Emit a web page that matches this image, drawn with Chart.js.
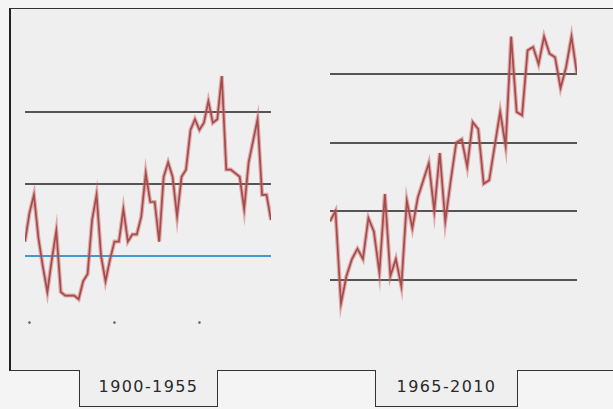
<!DOCTYPE html>
<html>
<head>
<meta charset="utf-8">
<script src="https://cdn.jsdelivr.net/npm/chart.js@4.4.1/dist/chart.umd.min.js"></script>
<style>
    html, body { margin: 0; padding: 0; }
    body { width: 613px; height: 409px; background: #f4f4f4; position: relative; overflow: hidden; }
    #frame {
        position: absolute; left: 9px; top: 8px; width: 620px; height: 361px;
        background: #efefef;
        border-left: 2px solid #222; border-top: 1px solid #333; border-bottom: 1px solid #333;
    }
    .label {
        position: absolute; top: 370px; height: 36px;
        border: 1px solid #333; border-top: none; background: #efefef;
        font-family: "DejaVu Sans", sans-serif; font-size: 16px; letter-spacing: 1.4px;
        color: #2a2a2a; text-align: center; line-height: 33px;
    }
    .plot { position: absolute; }
</style>
</head>
<body>
<div id="frame"></div>
<div class="plot" style="left:25px; top:58px; width:246px; height:288px;"><canvas id="leftChart"></canvas></div>
<div class="plot" style="left:330px; top:22.5px; width:247px; height:307.8px;"><canvas id="rightChart"></canvas></div>
<div class="label" style="left:79px; width:137px;">1900-1955</div>
<div class="label" style="left:375px; width:141px;">1965-2010</div>

<script>
const leftTitle = "1900-1955";
const rightTitle = "1965-2010";

// anomaly values, one per year
const leftValues = [
    -0.36, -0.28, -0.23, -0.35, -0.43, -0.50, -0.41, -0.33, -0.50, -0.51,
    -0.51, -0.51, -0.52, -0.47, -0.45, -0.30, -0.23, -0.40, -0.47, -0.41,
    -0.36, -0.36, -0.27, -0.36, -0.34, -0.34, -0.29, -0.17, -0.25, -0.25,
    -0.36, -0.18, -0.14, -0.18, -0.29, -0.18, -0.16, -0.05, -0.02, -0.05,
    -0.03, 0.03, -0.03, -0.02, 0.10, -0.16, -0.16, -0.17, -0.18, -0.27,
    -0.14, -0.08, -0.02, -0.23, -0.23, -0.30
];
const rightValues = [
    0.17, 0.20, -0.07, 0.01, 0.06, 0.09, 0.06, 0.18, 0.14, 0.02,
    0.25, 0.01, 0.06, -0.02, 0.23, 0.15, 0.24, 0.29, 0.34, 0.20,
    0.37, 0.17, 0.29, 0.40, 0.41, 0.33, 0.46, 0.44, 0.28, 0.29,
    0.39, 0.49, 0.39, 0.71, 0.49, 0.48, 0.67, 0.68, 0.63, 0.71,
    0.66, 0.65, 0.56, 0.62, 0.71, 0.60
];

const leftGrid = [-0.4, -0.2, 0.0];
const rightGrid = [0.0, 0.2, 0.4, 0.6];
const leftBaseline = -0.4;

// the three faint marks under the left plot
const dotYears = ["1901", "1920", "1939"];
const dotLevel = -0.585;

function range(from, to) {
    var out = [];
    for (var y = from; y <= to; y++) out.push(String(y));
    return out;
}

const leftYears = range(1900, 1955);
const rightYears = range(1965, 2010);

function seriesSets(values) {
    return [{
        data: values,
        borderColor: 'rgba(205, 100, 100, 0.5)',
        borderWidth: 4,
        pointRadius: 0,
        pointHoverRadius: 0,
        tension: 0
    }, {
        data: values,
        borderColor: '#7e3232',
        borderWidth: 1.7,
        pointRadius: 0,
        pointHoverRadius: 0,
        tension: 0
    }];
}

function createChart(canvas, years, datasets, grid, min, max, baseline) {
    return new Chart(canvas, {
        type: "line",
        data: {
            labels: years,
            datasets: datasets
        },
        options: {
            responsive: true,
            maintainAspectRatio: false,
            animation: false,
            layout: { padding: 0, autoPadding: false },
            scales: {
                x: {
                    display: false,
                    offset: false
                },
                y: {
                    min: min,
                    max: max,
                    afterBuildTicks: function (axis) {
                        axis.ticks = grid.map(function (v) { return { value: v }; });
                    },
                    ticks: { display: false },
                    border: { display: false },
                    grid: {
                        drawTicks: false,
                        lineWidth: 2,
                        color: function (ctx) {
                            if (ctx.tick && ctx.tick.value === baseline) return '#3f9ad0';
                            return '#555555';
                        }
                    }
                }
            },
            plugins: {
                legend: { display: false },
                tooltip: { enabled: false }
            }
        }
    });
}

var leftSets = seriesSets(leftValues);
leftSets.push({
    data: dotYears.map(function (y) { return { x: y, y: dotLevel }; }),
    showLine: false,
    pointRadius: 1.3,
    pointHoverRadius: 0,
    pointBorderWidth: 0,
    pointBackgroundColor: '#666666'
});

createChart(document.getElementById("leftChart"), leftYears, leftSets, leftGrid, -0.65, 0.15, leftBaseline);
createChart(document.getElementById("rightChart"), rightYears, seriesSets(rightValues), rightGrid, -0.15, 0.75, null);
</script>
</body>
</html>
